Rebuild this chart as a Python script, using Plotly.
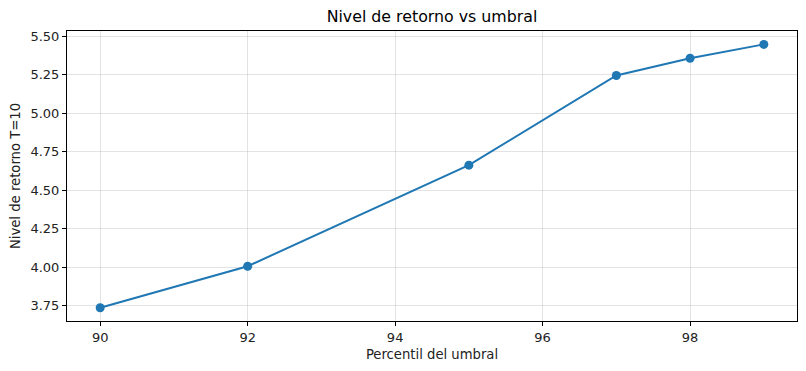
import plotly.graph_objects as go

percentiles = [90, 92, 95, 97, 98, 99]
return_levels = [3.735, 4.005, 4.662, 5.245, 5.357, 5.447]
x_ticks = [90, 92, 94, 96, 98]
y_ticks = [3.75, 4.00, 4.25, 4.50, 4.75, 5.00, 5.25, 5.50]

fig = go.Figure()
fig.add_trace(go.Scatter(
    x=percentiles, y=return_levels, mode="lines+markers",
    line=dict(color="#1f77b4", width=2),
    marker=dict(color="#1f77b4", size=9),
    showlegend=False,
))

axis_common = dict(
    showline=True, linecolor="black", linewidth=1, mirror=True,
    ticks="outside", ticklen=4, tickcolor="black", automargin=False,
    showgrid=True, gridcolor="rgba(176,176,176,0.35)", gridwidth=1,
    zeroline=False, tickfont=dict(size=13, color="#222"),
)

fig.update_layout(
    width=806, height=371,
    margin=dict(l=59, r=17, t=23, b=58),
    paper_bgcolor="white", plot_bgcolor="white",
    font=dict(family="DejaVu Sans", color="#222"),
    title=dict(text="Nivel de retorno vs umbral", x=(59 + 789) / 2 / 806, xanchor="center",
               y=1 - 8 / 371, yanchor="middle", font=dict(size=15.8, color="black")),
    xaxis=dict(range=[89.55, 99.45], tickvals=x_ticks, ticktext=[str(v) for v in x_ticks],
               title=dict(text="Percentil del umbral", font=dict(size=13.2), standoff=6), **axis_common),
    yaxis=dict(range=[3.649, 5.534], tickvals=y_ticks, ticktext=[f"{v:.2f}" for v in y_ticks],
               title=dict(text="Nivel de retorno T=10", font=dict(size=13.2), standoff=10), **axis_common),
)

fig.write_html("out.html")
